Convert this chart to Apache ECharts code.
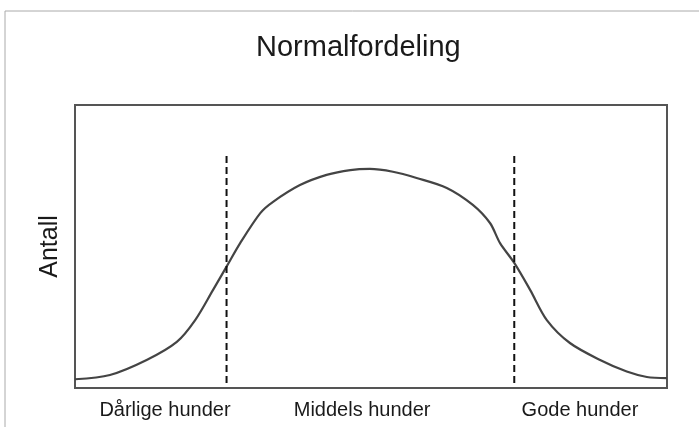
<!DOCTYPE html>
<html>
<head>
<meta charset="utf-8">
<title>Normalfordeling</title>
<script src="https://cdn.jsdelivr.net/npm/echarts@6/dist/echarts.min.js"></script>
<style>
  html, body { margin: 0; padding: 0; background: #fff; }
  #chart { width: 699px; height: 427px; }
</style>
</head>
<body>
<div id="chart"></div>
<script>
// kurven (x: 0-100 langs aksen, y: 0-100 i høyde)
const curveX = [0, 5.9, 12.1, 17.2, 20.3, 23.3, 25.6, 27.9, 31.3, 33.4, 38, 42.5, 46.5, 49.8,
  53.7, 57.7, 62.8, 67.2, 70.1, 71.8, 74.2, 76.9, 79.7, 83.6, 88.7, 93.2, 96.6, 100]
const curveY = [3.1, 4.6, 9.9, 16.3, 24, 34.6, 42.9, 51.2, 61.8, 65.7, 71.7, 75.3, 77, 77.4,
  76.4, 74.2, 70.7, 64.7, 58.3, 51.2, 44.2, 34.6, 24, 15.9, 9.9, 5.8, 3.9, 3.5]

// stiplede skillelinjer
const dividerX = [25.6, 74.2]
const dividerY = [1.8, 83]

// gruppenavn under aksen
const groupNames = ['Dårlige hunder', 'Middels hunder', 'Gode hunder']
const groupPos = [15.2, 48.5, 85.3]

const chart = echarts.init(document.getElementById('chart'))

const curveData = curveX.map((x, i) => [x, curveY[i]])
const dividerSeries = dividerX.map(x => ({
  type: 'line',
  data: [[x, dividerY[0]], [x, dividerY[1]]],
  symbol: 'none',
  silent: true,
  lineStyle: { color: '#111', width: 2, type: [7, 4] }
}))

const option = {
  animation: false,
  backgroundColor: '#fff',
  textStyle: { fontFamily: 'Liberation Sans' },
  title: {
    text: 'Normalfordeling',
    left: 251,
    top: 28,
    textStyle: { fontFamily: 'Liberation Sans', fontSize: 29, fontWeight: 'normal', color: '#1a1a1a' }
  },
  graphic: [
    {
      type: 'rect',
      shape: { x: 5, y: 11, width: 720, height: 440 },
      style: { fill: 'none', stroke: '#aaa', lineWidth: 1 },
      silent: true,
      z: -1
    }
  ],
  grid: {
    left: 75,
    right: 32,
    top: 105,
    bottom: 39,
    show: true,
    borderColor: '#555',
    borderWidth: 2
  },
  xAxis: {
    type: 'value',
    min: 0,
    max: 100,
    axisLine: { show: false },
    axisTick: { show: false },
    splitLine: { show: false },
    axisLabel: {
      customValues: groupPos,
      margin: 12,
      fontSize: 20,
      color: '#1a1a1a',
      formatter: v => groupNames[groupPos.indexOf(v)] || ''
    }
  },
  yAxis: {
    type: 'value',
    min: 0,
    max: 100,
    name: 'Antall',
    nameLocation: 'middle',
    nameRotate: 90,
    nameGap: 12,
    nameTextStyle: { fontSize: 25, color: '#1a1a1a' },
    axisLine: { show: false },
    axisTick: { show: false },
    splitLine: { show: false },
    axisLabel: { show: false }
  },
  series: [
    {
      type: 'line',
      data: curveData,
      symbol: 'none',
      smooth: 0.3,
      lineStyle: { color: '#444', width: 2.2 }
    },
    ...dividerSeries
  ]
}

chart.setOption(option)
</script>
</body>
</html>
